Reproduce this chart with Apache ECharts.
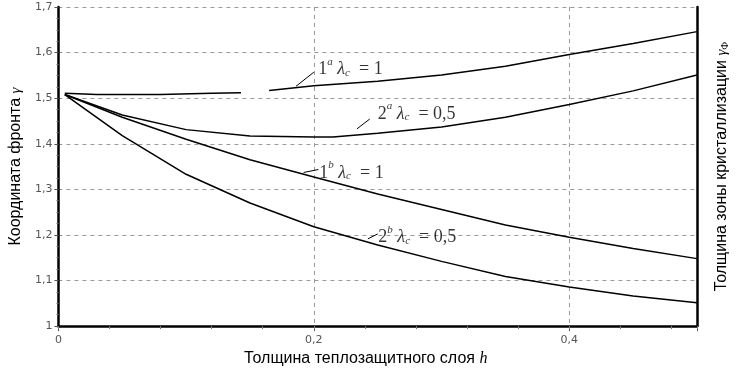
<!DOCTYPE html>
<html><head><meta charset="utf-8">
<script src="https://cdn.jsdelivr.net/npm/echarts@6/dist/echarts.min.js"></script>
<style>html,body{margin:0;padding:0;background:#fff}#c{width:738px;height:372px}</style>
</head><body><div id="c"></div>
<script>
// ---- data ----
const xTickValues = [0, 0.2, 0.4];
const xTickLabels = ['0', '0,2', '0,4'];
const yTickValues = [1, 1.1, 1.2, 1.3, 1.4, 1.5, 1.6, 1.7];
const yTickLabels = ['1', '1,1', '1,2', '1,3', '1,4', '1,5', '1,6', '1,7'];

const curve1a = [[0.005,1.511],[0.03,1.508],[0.08,1.508],[0.12,1.511],[0.143,1.512],null,
                 [0.165,1.517],[0.2,1.527],[0.25,1.537],[0.3,1.551],[0.35,1.570],[0.4,1.596],[0.45,1.620],[0.5,1.646]];
const curve2a = [[0.005,1.508],[0.05,1.463],[0.1,1.431],[0.15,1.417],[0.2,1.415],[0.215,1.415],[0.25,1.423],[0.3,1.437],[0.35,1.458],[0.4,1.486],[0.45,1.516],[0.5,1.551]];
const curve1b = [[0.005,1.508],[0.05,1.458],[0.1,1.410],[0.15,1.365],[0.2,1.327],[0.25,1.290],[0.3,1.256],[0.35,1.222],[0.4,1.195],[0.45,1.170],[0.5,1.148]];
const curve2b = [[0.005,1.508],[0.05,1.418],[0.1,1.333],[0.15,1.270],[0.2,1.218],[0.25,1.178],[0.3,1.142],[0.35,1.109],[0.4,1.086],[0.45,1.066],[0.5,1.051]];

const labelNum = ['1', '2', '1', '2'];
const labelSup = ['a', 'a', 'b', 'b'];
const labelVal = ['1', '0,5', '1', '0,5'];
const labelAnchor = [[0.2035,1.568],[0.25,1.470],[0.2043,1.340],[0.2505,1.199]];
const leaders = [
  [[0.186,1.526],[0.2,1.557]],
  [[0.2337,1.4326],[0.2438,1.4543]],
  [[0.192,1.337],[0.2036,1.3435]],
  [[0.2423,1.1913],[0.25,1.2022]]
];

const xName = 'Толщина теплозащитного слоя ';
const xNameVar = 'h';
const yName = 'Координата фронта ';
const yNameVar = 'γ';
const y2Name = 'Толщина зоны кристаллизации ';
const y2NameVar = 'γ';
const y2NameSub = 'Ф';

// ---- chart ----
const chart = echarts.init(document.getElementById('c'), null, {renderer: 'canvas'});
const sans = 'Liberation Sans';
const serif = 'Liberation Serif';
const tickFont = 'DejaVu Sans';

function fmtX(v) {
  for (let i = 0; i < xTickValues.length; i++) if (Math.abs(v - xTickValues[i]) < 1e-9) return xTickLabels[i];
  return '';
}
function fmtY(v) {
  for (let i = 0; i < yTickValues.length; i++) if (Math.abs(v - yTickValues[i]) < 1e-9) return yTickLabels[i];
  return '';
}

const lineStyle = {color: '#000', width: 1.5};
const series = [];
[curve1a, curve2a, curve1b, curve2b].forEach(function (c) {
  series.push({type: 'line', data: c, showSymbol: false, symbol: 'none', connectNulls: false,
    lineStyle: lineStyle, silent: true, z: 3});
});
leaders.forEach(function (l) {
  series.push({type: 'line', data: l, showSymbol: false, symbol: 'none',
    lineStyle: {color: '#000', width: 1}, silent: true, z: 3});
});
series.push({
  type: 'scatter', symbolSize: 0, silent: true, z: 4,
  data: labelAnchor.map(function (p, i) { return {value: p}; }),
  label: {
    show: true, position: 'right', distance: 0,
    formatter: function (p) {
      const i = p.dataIndex;
      return '{n|' + labelNum[i] + '}{sup|' + labelSup[i] + '}{l| λ}{sub|c}{n|  = ' + labelVal[i] + '}';
    },
    rich: {
      n: {fontFamily: serif, fontSize: 18, color: '#000', lineHeight: 22, verticalAlign: 'bottom'},
      sup: {fontFamily: serif, fontStyle: 'italic', fontSize: 11, color: '#000', lineHeight: 11, verticalAlign: 'top'},
      l: {fontFamily: serif, fontStyle: 'italic', fontSize: 18, color: '#000', lineHeight: 22, verticalAlign: 'bottom'},
      sub: {fontFamily: serif, fontStyle: 'italic', fontSize: 11, color: '#000', lineHeight: 11, verticalAlign: 'bottom'}
    }
  }
});

const option = {
  backgroundColor: '#fff',
  animation: false,
  grid: {left: 53, right: 33, top: 7, bottom: 44, containLabel: false},
  xAxis: [{
    type: 'value', min: 0, max: 0.5, interval: 0.2, position: 'bottom',
    axisLine: {show: true, onZero: false, lineStyle: {color: '#000', width: 2.5}},
    axisTick: {show: true, length: 5, lineStyle: {color: '#555'}},
    axisLabel: {formatter: fmtX, color: '#555', fontFamily: tickFont, fontSize: 11, margin: 9},
    splitLine: {show: true, lineStyle: {color: '#999', type: [4, 4], width: 1}},
    name: '{t|' + xName + '}{v|' + xNameVar + '}', nameLocation: 'middle', nameGap: 23,
    nameTextStyle: {padding: [0, 24, 0, 0], rich: {
      t: {fontFamily: sans, fontSize: 16, color: '#000'},
      v: {fontFamily: serif, fontStyle: 'italic', fontSize: 16, color: '#000'}
    }}
  }, {
    type: 'value', min: 0, max: 0.5, interval: 0.04, position: 'bottom',
    axisLine: {show: false}, axisLabel: {show: false}, splitLine: {show: false},
    axisTick: {show: true, length: 3, lineStyle: {color: '#777'}}
  }],
  yAxis: [{
    type: 'value', min: 1, max: 1.7, interval: 0.1, position: 'left',
    axisLine: {show: true, onZero: false, lineStyle: {color: '#000', width: 2.5}},
    axisTick: {show: true, length: 4, lineStyle: {color: '#555'}},
    minorTick: {show: true, splitNumber: 4, length: 2, lineStyle: {color: '#777'}},
    axisLabel: {formatter: fmtY, color: '#555', fontFamily: tickFont, fontSize: 11, margin: 6},
    splitLine: {show: true, lineStyle: {color: '#999', type: [4, 4], width: 1}},
    name: '{t|' + yName + '}{v|' + yNameVar + '}', nameLocation: 'middle', nameGap: 32, nameRotate: 90,
    nameTextStyle: {rich: {
      t: {fontFamily: sans, fontSize: 16, color: '#000'},
      v: {fontFamily: serif, fontStyle: 'italic', fontSize: 15, color: '#000'}
    }}
  }, {
    type: 'value', min: 1, max: 1.7, interval: 0.1, position: 'right',
    axisLine: {show: true, onZero: false, lineStyle: {color: '#000', width: 2.5}},
    axisTick: {show: false}, axisLabel: {show: false}, splitLine: {show: false},
    name: '{t|' + y2Name + '}{v|' + y2NameVar + '}{s|' + y2NameSub + '}', nameLocation: 'middle', nameGap: 17, nameRotate: 90,
    nameTextStyle: {rich: {
      t: {fontFamily: sans, fontSize: 16, color: '#000'},
      v: {fontFamily: serif, fontStyle: 'italic', fontSize: 15, color: '#000'},
      s: {fontFamily: serif, fontSize: 10, color: '#000', verticalAlign: 'bottom'}
    }}
  }],
  series: series
};

chart.setOption(option);
</script>
</body></html>
